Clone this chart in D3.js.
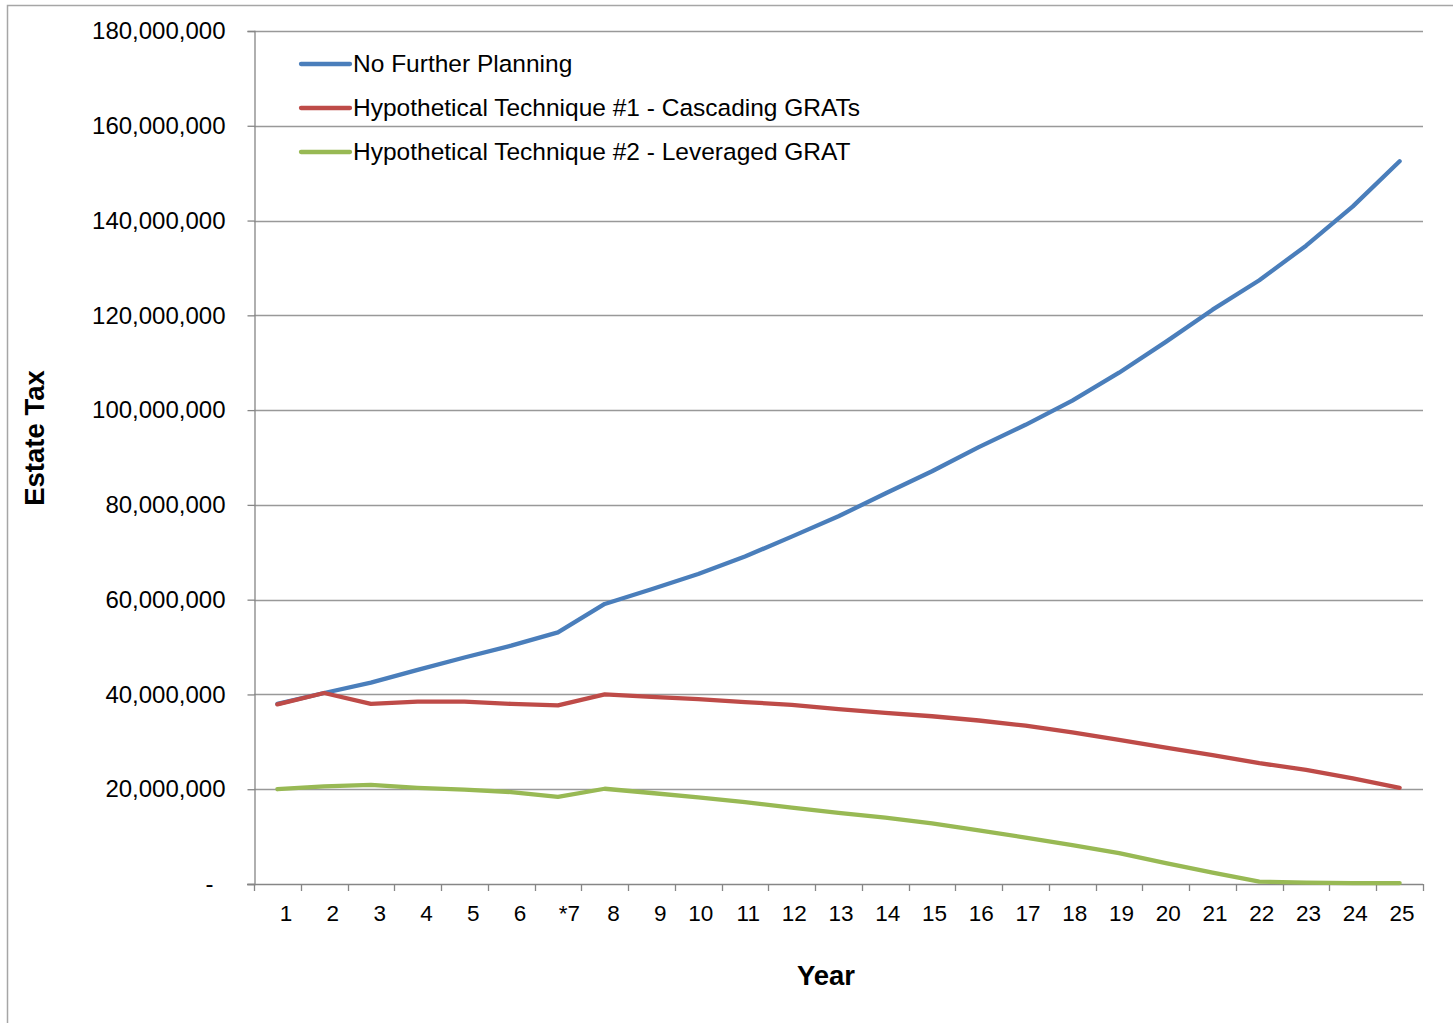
<!DOCTYPE html>
<html>
<head>
<meta charset="utf-8">
<script src="https://cdn.jsdelivr.net/npm/d3@7"></script>
<style>
  html, body { margin: 0; padding: 0; background: #fff; }
  svg { display: block; }
  text { font-family: "Liberation Sans", Arial, sans-serif; fill: #000; }
</style>
</head>
<body>
<svg id="chart" width="1453" height="1023"></svg>
<script>
// Year labels (year 7 is flagged with an asterisk)
const years = ["1","2","3","4","5","6","*7","8","9","10","11","12","13","14","15","16","17","18","19","20","21","22","23","24","25"];

// Estate tax by year, in millions of dollars
const noFurtherPlanning = [38.0, 40.3, 42.5, 45.2, 47.8, 50.3, 53.1, 59.1, 62.2, 65.4, 69.1, 73.3, 77.6, 82.4, 87.1, 92.2, 96.9, 102.0, 107.9, 114.4, 121.2, 127.4, 134.7, 143.0, 152.5];
const cascadingGrats   = [37.9, 40.3, 38.0, 38.5, 38.5, 38.0, 37.7, 40.0, 39.5, 39.0, 38.4, 37.8, 36.9, 36.1, 35.4, 34.5, 33.4, 32.0, 30.4, 28.8, 27.2, 25.5, 24.1, 22.3, 20.3];
const leveragedGrat    = [20.0, 20.6, 20.9, 20.3, 19.9, 19.4, 18.4, 20.1, 19.2, 18.3, 17.3, 16.1, 15.0, 14.0, 12.8, 11.3, 9.8, 8.2, 6.5, 4.4, 2.4, 0.5, 0.3, 0.2, 0.2];

const seriesNames  = ["No Further Planning", "Hypothetical Technique #1 - Cascading GRATs", "Hypothetical Technique #2 - Leveraged GRAT"];
const seriesValues = [noFurtherPlanning, cascadingGrats, leveragedGrat];
const seriesColors = ["#4a7ebb", "#be4b48", "#98b954"];

const yTicks = [0, 20e6, 40e6, 60e6, 80e6, 100e6, 120e6, 140e6, 160e6, 180e6];

const svg = d3.select("#chart");
const plotLeft = 254, plotRight = 1423, plotTop = 31, plotBottom = 884;
const axisColor = "#868686", gridColor = "#999999";

// outer chart frame
svg.append("rect")
  .attr("x", 7.5).attr("y", 5.5)
  .attr("width", 1460).attr("height", 1030)
  .attr("fill", "none").attr("stroke", "#a6a6a6").attr("stroke-width", 1.5);

const x = d3.scaleBand().domain(years).range([plotLeft, plotRight]).padding(0);
const y = d3.scaleLinear().domain([0, 180e6]).range([plotBottom, plotTop]);
const cx = d => x(d) + x.bandwidth() / 2;

// horizontal gridlines
svg.append("g")
  .selectAll("line")
  .data(yTicks.filter(v => v > 0))
  .join("line")
  .attr("x1", plotLeft).attr("x2", plotRight)
  .attr("y1", d => Math.round(y(d)) + 0.5).attr("y2", d => Math.round(y(d)) + 0.5)
  .attr("stroke", gridColor).attr("stroke-width", 1.3);

// y axis (accounting style: zero shown as a dash, set in from the right)
const yAxis = svg.append("g")
  .attr("transform", `translate(${plotLeft + 0.5},0)`)
  .call(d3.axisLeft(y).tickValues(yTicks).tickSize(7).tickPadding(22)
    .tickFormat(v => v === 0 ? "-" : d3.format(",")(v)));
yAxis.select(".domain").attr("stroke", axisColor).attr("stroke-width", 1.3);
yAxis.selectAll(".tick line").attr("stroke", axisColor).attr("stroke-width", 1.3);
yAxis.selectAll(".tick text").attr("font-size", 24).attr("fill", "#000")
  .attr("font-family", "'Liberation Sans', Arial, sans-serif")
  .attr("dx", d => d === 0 ? -12 : 0);

// x axis: line, tick marks at category boundaries, labels
const xg = svg.append("g");
xg.append("line")
  .attr("x1", plotLeft - 7).attr("x2", plotRight)
  .attr("y1", plotBottom + 0.5).attr("y2", plotBottom + 0.5)
  .attr("stroke", axisColor).attr("stroke-width", 1.3);
const bounds = years.map(d => x(d)).concat([x(years[years.length - 1]) + x.bandwidth()]);
xg.selectAll("line.tick")
  .data(bounds)
  .join("line")
  .attr("class", "tick")
  .attr("x1", d => Math.round(d) + 0.5).attr("x2", d => Math.round(d) + 0.5)
  .attr("y1", plotBottom).attr("y2", plotBottom + 7)
  .attr("stroke", axisColor).attr("stroke-width", 1.3);
xg.selectAll("text")
  .data(years)
  .join("text")
  .attr("x", d => cx(d) + (d.startsWith("*") ? 22 : 15))
  .attr("y", plotBottom + 29)
  .attr("dy", "0.35em")
  .attr("text-anchor", "end")
  .attr("font-size", 22.5)
  .text(d => d);

// axis titles
svg.append("text")
  .attr("x", 826).attr("y", 975).attr("dy", "0.35em")
  .attr("text-anchor", "middle")
  .attr("font-size", 27.5).attr("font-weight", "bold")
  .text("Year");
svg.append("text")
  .attr("transform", "translate(34,438) rotate(-90)")
  .attr("dy", "0.35em")
  .attr("text-anchor", "middle")
  .attr("font-size", 27.5).attr("font-weight", "bold")
  .text("Estate Tax");

// series lines
const line = d3.line()
  .x((d, i) => cx(years[i]))
  .y(d => y(d * 1e6));
svg.append("g")
  .selectAll("path")
  .data(seriesValues)
  .join("path")
  .attr("d", line)
  .attr("fill", "none")
  .attr("stroke", (d, i) => seriesColors[i])
  .attr("stroke-width", 4.3)
  .attr("stroke-linejoin", "round")
  .attr("stroke-linecap", "round");

// legend
const legend = svg.append("g");
const lg = legend.selectAll("g")
  .data(seriesNames)
  .join("g")
  .attr("transform", (d, i) => `translate(301,${64 + i * 44})`);
lg.append("line")
  .attr("x1", 0).attr("x2", 49)
  .attr("stroke", (d, i) => seriesColors[i])
  .attr("stroke-width", 4.3)
  .attr("stroke-linecap", "round");
lg.append("text")
  .attr("x", 52).attr("dy", "0.32em")
  .attr("font-size", 24.5)
  .text(d => d);
</script>
</body>
</html>
